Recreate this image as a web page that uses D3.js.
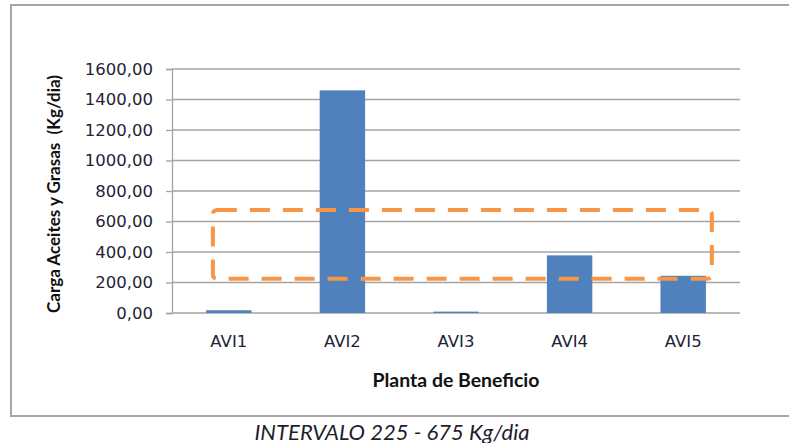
<!DOCTYPE html>
<html>
<head>
<meta charset="utf-8">
<script src="https://cdn.jsdelivr.net/npm/d3@7"></script>
<style>
  html, body { margin: 0; padding: 0; background: #ffffff; }
  svg { display: block; }
  text { white-space: pre; }
</style>
</head>
<body>
<svg id="chart" width="789" height="443"></svg>
<script>
// Plant names and daily fats & oils load (kg/day)
const plantas = ["AVI1", "AVI2", "AVI3", "AVI4", "AVI5"];
const cargaAyG = [18, 1460, 9, 378, 244];
const yTicks = [0, 200, 400, 600, 800, 1000, 1200, 1400, 1600];
// Acceptable interval (kg/day)
const intervalo = [225, 675];

const svg = d3.select("#chart");
const W = 789, H = 443;
const plot = { left: 172, right: 740, top: 69, bottom: 313 };

// Outer chart frame (its right edge runs past the window)
svg.append("rect")
  .attr("x", 11).attr("y", 5)
  .attr("width", W + 20).attr("height", 411)
  .attr("fill", "#ffffff")
  .attr("stroke", "#a6a6a6").attr("stroke-width", 2);

const x = d3.scaleBand()
  .domain(plantas)
  .range([plot.left, plot.right])
  .paddingInner(0.6)
  .paddingOuter(0.3);

const y = d3.scaleLinear()
  .domain([0, 1600])
  .range([plot.bottom, plot.top]);

const fmt = v => d3.format(".2f")(v).replace(".", ",");

// Horizontal gridlines
svg.append("g")
  .selectAll("line")
  .data(yTicks)
  .join("line")
  .attr("x1", plot.left).attr("x2", plot.right)
  .attr("y1", d => y(d)).attr("y2", d => y(d))
  .attr("stroke", "#a3a3a3").attr("stroke-width", 1.3);

// Y axis
const yAxis = svg.append("g")
  .attr("transform", `translate(${plot.left},0)`)
  .call(d3.axisLeft(y).tickValues(yTicks).tickFormat(fmt).tickSizeOuter(0).tickSize(6).tickPadding(13));
yAxis.select(".domain").attr("stroke", "#a3a3a3").attr("stroke-width", 1.3);
yAxis.selectAll(".tick line").attr("stroke", "#a3a3a3").attr("stroke-width", 1.3);
yAxis.selectAll(".tick text")
  .attr("font-family", "'DejaVu Sans', Verdana, sans-serif")
  .attr("font-size", 16.5)
  .attr("fill", "#221f38");

// Bars
svg.append("g")
  .selectAll("rect")
  .data(plantas.map((p, i) => ({ p, v: cargaAyG[i] })))
  .join("rect")
  .attr("x", d => x(d.p))
  .attr("width", x.bandwidth())
  .attr("y", d => y(d.v))
  .attr("height", d => y(0) - y(d.v))
  .attr("fill", "#4f81bd");

// X axis labels
const xAxis = svg.append("g")
  .attr("transform", `translate(0,${plot.bottom})`)
  .call(d3.axisBottom(x).tickSize(0).tickPadding(22));
xAxis.select(".domain").remove();
xAxis.selectAll(".tick text")
  .attr("font-family", "'DejaVu Sans', Verdana, sans-serif")
  .attr("font-size", 16.5)
  .attr("fill", "#221f38");

// Dashed box marking the acceptable interval
const bw = x.bandwidth();
const boxL = x(plantas[0]) + 0.15 * bw;
const boxR = x(plantas[plantas.length - 1]) + 1.13 * bw;
svg.append("rect")
  .attr("x", boxL)
  .attr("y", y(intervalo[1]))
  .attr("width", boxR - boxL)
  .attr("height", y(intervalo[0]) - y(intervalo[1]))
  .attr("rx", 4).attr("ry", 4)
  .attr("fill", "none")
  .attr("stroke", "#f79646")
  .attr("stroke-width", 4)
  .attr("stroke-dasharray", "20,13");

// Axis titles
svg.append("text")
  .attr("transform", `translate(54,${(plot.top + plot.bottom) / 2 + 3}) rotate(-90)`)
  .attr("text-anchor", "middle")
  .attr("dominant-baseline", "central")
  .attr("font-family", "Lato, 'Open Sans', sans-serif")
  .attr("font-weight", "bold")
  .attr("font-size", 16.5)
  .attr("fill", "#111")
  .attr("textLength", 238)
  .attr("lengthAdjust", "spacingAndGlyphs")
  .text("Carga Aceites y Grasas  (Kg/dia)");

svg.append("text")
  .attr("x", 456).attr("y", 387)
  .attr("text-anchor", "middle")
  .attr("font-family", "Lato, 'Open Sans', sans-serif")
  .attr("font-weight", "bold")
  .attr("font-size", 18)
  .attr("fill", "#111")
  .attr("textLength", 167)
  .attr("lengthAdjust", "spacingAndGlyphs")
  .text("Planta de Beneficio");

// Caption below the frame
svg.append("text")
  .attr("x", 392).attr("y", 440)
  .attr("text-anchor", "middle")
  .attr("font-family", "Lato, 'Open Sans', sans-serif")
  .attr("font-style", "italic")
  .attr("font-size", 21)
  .attr("fill", "#1e1e2e")
  .attr("textLength", 275)
  .attr("lengthAdjust", "spacingAndGlyphs")
  .text(`INTERVALO ${intervalo[0]} - ${intervalo[1]} Kg/dia`);
</script>
</body>
</html>
